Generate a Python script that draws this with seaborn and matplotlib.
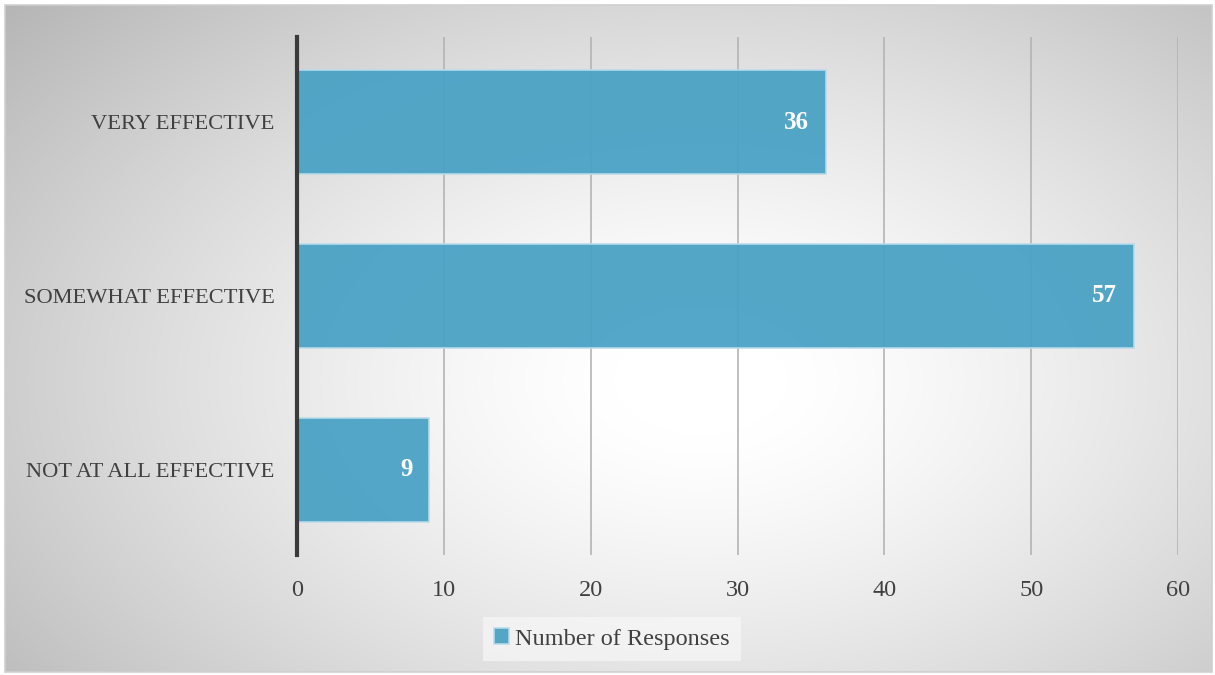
import numpy as np
import pandas as pd
import seaborn as sns
import matplotlib.pyplot as plt
from matplotlib.patches import Rectangle

# Dữ liệu
categories = ['VERY EFFECTIVE', 'SOMEWHAT EFFECTIVE', 'NOT AT ALL EFFECTIVE']
responses = [36, 57, 9]
series_name = 'Number of Responses'
x_ticks = [0, 10, 20, 30, 40, 50, 60]

df = pd.DataFrame({'category': categories, 'responses': responses})

sns.set_style("white")
plt.rcParams['font.family'] = ['Liberation Serif', 'DejaVu Serif']

text_color = '#404040'
bar_color = '#4ba2c5'

fig = plt.figure(figsize=(12.15, 6.75), dpi=100)

# Nền gradient tròn
bg = fig.add_axes([0, 0, 1, 1], zorder=-10)
W, H = 1215, 675
yy, xx = np.mgrid[0:H, 0:W]
r = np.sqrt(((xx - 700) / 720.0) ** 2 + ((yy - 380) / 450.0) ** 2)
val = np.clip(1.0 - 0.24 * np.clip(r - 0.12, 0, None) ** 1.3, 0, 1)
img = np.dstack([val, val, val])
img[:5, :] = 1
img[-3:, :] = 1
img[:, :5] = 1
img[:, -3:] = 1
bg.imshow(img, aspect='auto', extent=[0, W, H, 0], interpolation='bilinear')
bg.add_patch(Rectangle((5, 5), W - 8, H - 8, fill=False, edgecolor='#cfcfcf', lw=1.2))
bg.set_xlim(0, W)
bg.set_ylim(H, 0)
bg.axis('off')

ax = fig.add_axes([297 / W, 1 - 555 / H, (1178 - 297) / W, (555 - 37) / H])
ax.set_facecolor('none')
ax.set_axisbelow(True)
ax.xaxis.grid(True, color='#b4b4b4', lw=1.2)

sns.barplot(data=df, x='responses', y='category', orient='h', color=bar_color,
            saturation=1, width=0.6, alpha=0.95, edgecolor='#b9dcea', linewidth=1.2,
            label=series_name, ax=ax)

for i, v in enumerate(responses):
    ax.annotate(str(v), xy=(v, i), xytext=(-12, 0), textcoords='offset points',
                ha='right', va='center', color='white', fontsize=18, fontweight='bold')

ax.set_xlim(0, 60)
ax.set_ylim(2.49, -0.49)
ax.set_xticks(x_ticks)
ax.set_xlabel('')
ax.set_ylabel('')
ax.tick_params(axis='both', length=0, colors=text_color)
ax.tick_params(axis='x', pad=18, labelsize=17.5)
ax.tick_params(axis='y', pad=16, labelsize=16.2)
for s in ['top', 'right', 'bottom']:
    ax.spines[s].set_visible(False)
ax.spines['left'].set_color('#3a3a3a')
ax.spines['left'].set_linewidth(3)

leg = fig.legend(*ax.get_legend_handles_labels(), loc='center',
                 bbox_to_anchor=(612 / W, 1 - 639 / H), frameon=True,
                 fontsize=17.5, handlelength=0.6, handleheight=0.6,
                 handletextpad=0.25, borderpad=0.45, borderaxespad=0, fancybox=False)
leg.get_frame().set_facecolor('#f7f7f7')
leg.get_frame().set_edgecolor('none')
leg.get_frame().set_alpha(0.7)
for t in leg.get_texts():
    t.set_color(text_color)
if ax.get_legend() is not None:
    ax.get_legend().remove()

plt.savefig('out.png', dpi=100)
